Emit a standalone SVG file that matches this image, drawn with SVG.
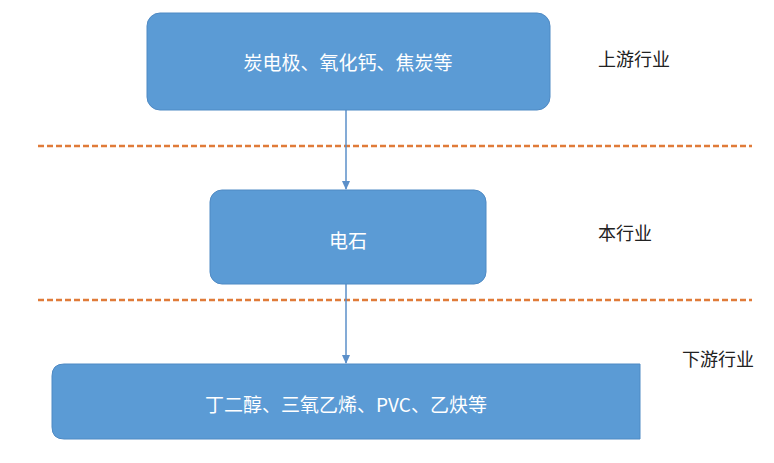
<svg xmlns="http://www.w3.org/2000/svg" width="774" height="463" viewBox="0 0 774 463">
<defs>
<style>
.box{fill:#5B9BD5;stroke:#4F8AC4;stroke-width:1}
.t{font-family:"Noto Sans CJK SC","Liberation Sans",sans-serif;font-size:19px;fill:#FFFFFF;text-anchor:middle;dominant-baseline:central}
.lab{font-family:"Noto Sans CJK SC","Liberation Sans",sans-serif;font-size:18px;fill:#222222}
.dash{stroke:#E07B39;stroke-width:2.5;stroke-dasharray:6 3;fill:none}
.conn{stroke:#5B8FC9;stroke-width:1.5;fill:none}
</style>
<marker id="ah" markerWidth="10" markerHeight="10" refX="8" refY="5" orient="auto" markerUnits="userSpaceOnUse">
<path d="M0,1 L9,5 L0,9 Z" fill="#5B8FC9"/>
</marker>
</defs>
<rect width="774" height="463" fill="#FFFFFF"/>
<line class="dash" x1="38" y1="146" x2="752" y2="146"/>
<line class="dash" x1="38" y1="300" x2="752" y2="300"/>
<g id="connectors">
<line class="conn" x1="346" y1="110" x2="346" y2="189" marker-end="url(#ah)"/>
<line class="conn" x1="346" y1="284" x2="346" y2="363" marker-end="url(#ah)"/>
</g>
<g id="upstream">
<rect class="box" x="147" y="13" width="403" height="97" rx="13"/>
<text class="t" x="348" y="61">炭电极、氧化钙、焦炭等</text>
</g>
<g id="current">
<rect class="box" x="210" y="190" width="276" height="94" rx="12"/>
<text class="t" x="348" y="239">电石</text>
</g>
<g id="downstream">
<path class="box" d="M64,364 H640 V439 H64 Q52,439 52,427 V376 Q52,364 64,364 Z"/>
<text class="t" x="346" y="403">丁二醇、三氧乙烯、PVC、乙炔等</text>
</g>
<g id="labels">
<text class="lab" x="598" y="66">上游行业</text>
<text class="lab" x="598" y="240">本行业</text>
<text class="lab" x="682" y="366">下游行业</text>
</g>
</svg>
